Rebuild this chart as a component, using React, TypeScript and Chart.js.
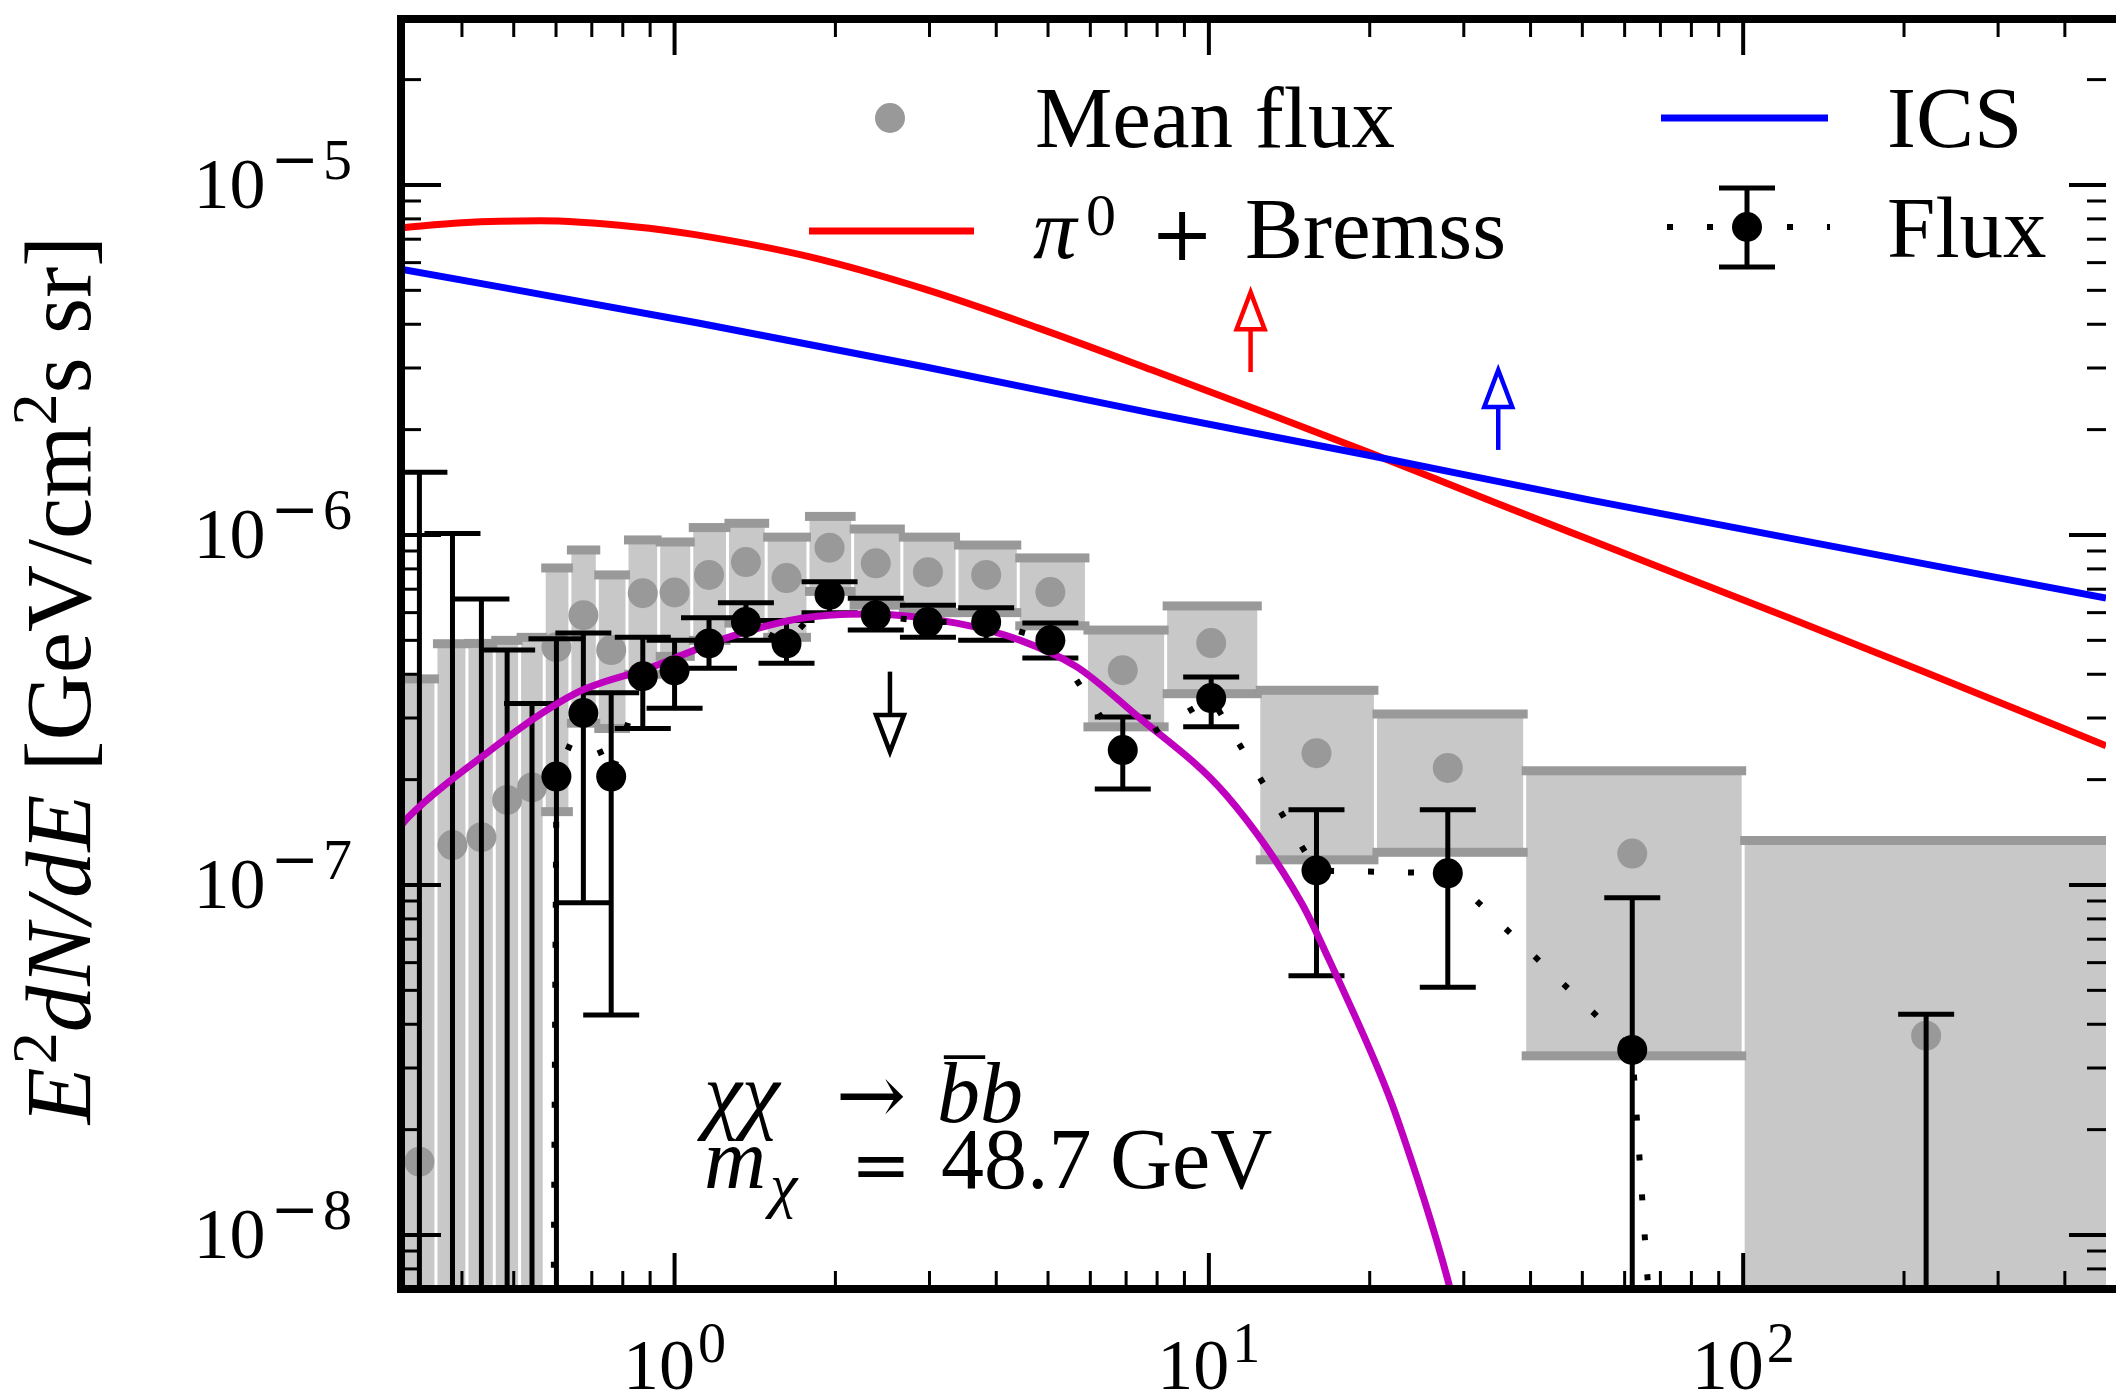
import React, { useEffect, useRef } from 'react';
import { Chart, registerables } from 'chart.js';

Chart.register(...registerables);

const W = 2121;
const H = 1395;
const FONT = '"Liberation Serif", "DejaVu Serif", serif';
const FONT_SYM = '"DejaVu Serif", "Liberation Serif", serif';

// axis ranges
const X_MIN = 0.3076;
const X_MAX = 477.6;
const Y_MIN = 7.01e-9;
const Y_MAX = 2.98e-5;
const OFF = 1e-20; // value far below the axis

// energy bins (GeV)
const binLow = [0.31, 0.3576, 0.4087, 0.4598, 0.5128, 0.5702, 0.6369, 0.7167, 0.8146, 0.9338, 1.077, 1.256, 1.484, 1.777, 2.154, 2.663, 3.378, 4.398, 5.9, 8.3, 12.4, 20.5, 39, 100];
const binHigh = [0.3576, 0.4087, 0.4598, 0.5128, 0.5702, 0.6369, 0.7167, 0.8146, 0.9338, 1.077, 1.256, 1.484, 1.777, 2.154, 2.663, 3.378, 4.398, 5.9, 8.3, 12.4, 20.5, 39, 100, 500];
const binCenter = [0.333, 0.384, 0.435, 0.486, 0.541, 0.601, 0.675, 0.761, 0.872, 1.0, 1.16, 1.36, 1.62, 1.95, 2.38, 2.98, 3.83, 5.05, 6.9, 10.1, 15.9, 28.0, 62, 220];

// mean flux with systematic band
const meanFlux = [1.62e-8, 1.3e-7, 1.37e-7, 1.75e-7, 1.9e-7, 4.78e-7, 5.9e-7, 4.69e-7, 6.82e-7, 6.85e-7, 7.69e-7, 8.37e-7, 7.53e-7, 9.2e-7, 8.3e-7, 7.83e-7, 7.69e-7, 6.87e-7, 4.11e-7, 4.91e-7, 2.38e-7, 2.16e-7, 1.23e-7, 3.71e-8];
const sysLow = [OFF, OFF, OFF, OFF, OFF, 1.62e-7, 2.9e-7, 2.8e-7, 4.0e-7, 4.5e-7, 5.0e-7, 5.6e-7, 5.1e-7, 6.9e-7, 6.3e-7, 6.0e-7, 6.0e-7, 5.5e-7, 2.83e-7, 3.52e-7, 1.18e-7, 1.24e-7, 3.25e-8, OFF];
const sysHigh = [3.88e-7, 4.89e-7, 4.9e-7, 5.0e-7, 5.1e-7, 8.05e-7, 9.06e-7, 7.69e-7, 9.68e-7, 9.55e-7, 1.05e-6, 1.08e-6, 9.86e-7, 1.13e-6, 1.04e-6, 9.86e-7, 9.36e-7, 8.6e-7, 5.35e-7, 6.27e-7, 3.6e-7, 3.08e-7, 2.12e-7, 1.34e-7];

// flux with statistical errors
const flux = [OFF, OFF, OFF, OFF, OFF, 2.04e-7, 3.1e-7, 2.04e-7, 3.95e-7, 4.1e-7, 4.9e-7, 5.64e-7, 4.9e-7, 6.74e-7, 5.9e-7, 5.64e-7, 5.64e-7, 5.0e-7, 2.43e-7, 3.42e-7, 1.1e-7, 1.08e-7, 3.38e-8, OFF];
const fluxLow = [OFF, OFF, OFF, OFF, OFF, OFF, 8.9e-8, 4.25e-8, 2.8e-7, 3.2e-7, 4.16e-7, 5.0e-7, 4.3e-7, 6.0e-7, 5.35e-7, 5.1e-7, 5.0e-7, 4.45e-7, 1.88e-7, 2.83e-7, 5.5e-8, 5.1e-8, OFF, OFF];
const fluxHigh = [1.51e-6, 1.01e-6, 6.56e-7, 4.69e-7, 3.3e-7, 5.05e-7, 5.25e-7, 3.54e-7, 5.1e-7, 5.0e-7, 5.8e-7, 6.4e-7, 5.7e-7, 7.35e-7, 6.6e-7, 6.3e-7, 6.2e-7, 5.6e-7, 3.02e-7, 3.93e-7, 1.64e-7, 1.64e-7, 9.2e-8, 4.27e-8];

// model curves
const picE = [0.3076, 0.4, 0.56, 0.84, 1.1, 1.8, 2.95, 4.8, 7.83, 12.8, 19.95, 34.2, 51.5, 121.7, 218, 477.6];
const picF = [7.55e-6, 7.8e-6, 7.9e-6, 7.6e-6, 7.2e-6, 6.22e-6, 5.03e-6, 3.9e-6, 2.96e-6, 2.23e-6, 1.72e-6, 1.24e-6, 9.7e-7, 5.8e-7, 4.07e-7, 2.5e-7];
const icsE = [0.3076, 1.1, 2.95, 7.83, 19.9, 51.5, 477.6];
const icsF = [5.75e-6, 4.04e-6, 3.02e-6, 2.23e-6, 1.69e-6, 1.26e-6, 6.6e-7];
const dmE = [0.3076, 0.317, 0.435, 0.655, 0.91, 1.26, 1.75, 2.3, 3.37, 4.44, 5.66, 7.23, 10.8, 14.9, 16.8, 20.7, 22.4, 27.9, 30];
const dmF = [1.48e-7, 1.56e-7, 2.32e-7, 3.54e-7, 4.2e-7, 5.1e-7, 5.8e-7, 5.95e-7, 5.6e-7, 5.0e-7, 4.2e-7, 3.1e-7, 1.8e-7, 8.9e-8, 6.1e-8, 3.0e-8, 2.2e-8, 7.6e-9, 4.8e-9];

// limit arrows
const arrowE = [2.53, 11.97, 34.8];
const arrowFrom = [4.07e-7, 2.92e-6, 1.75e-6];
const arrowTo = [2.4e-7, 4.94e-6, 2.96e-6];
const arrowColor = ['#000000', '#ff0000', '#0000ff'];

// tick labels (powers of ten)
const xTickExp = [0, 1, 2];
const yTickExp = [-8, -7, -6, -5];

const COL_BOX = '#c8c8c8';
const COL_CAP = '#999999';
const COL_MEAN = '#999999';
const COL_DM = '#bf00bf';
const COL_PI = '#ff0000';
const COL_ICS = '#0000ff';

type Seg = { t: string; size: number; it?: boolean; dy?: number; gap?: number; fam?: string };

function segFont(s: Seg) {
  return `${s.it ? 'italic ' : ''}${s.size}px ${s.fam || FONT}`;
}

function segWidth(ctx: CanvasRenderingContext2D, segs: Seg[]) {
  let w = 0;
  for (const s of segs) {
    ctx.font = segFont(s);
    w += ctx.measureText(s.t).width + (s.gap || 0);
  }
  return w;
}

function drawSegs(ctx: CanvasRenderingContext2D, segs: Seg[], x: number, y: number) {
  let cx = x;
  for (const s of segs) {
    ctx.font = segFont(s);
    ctx.fillText(s.t, cx, y + (s.dy || 0));
    cx += ctx.measureText(s.t).width + (s.gap || 0);
  }
  return cx;
}

function text(ctx: CanvasRenderingContext2D, t: string, x: number, y: number, size: number, it = false, fam = FONT) {
  ctx.font = `${it ? 'italic ' : ''}${size}px ${fam}`;
  ctx.fillText(t, x, y);
  return ctx.measureText(t).width;
}

function textCentered(ctx: CanvasRenderingContext2D, t: string, cx: number, y: number, size: number, fam = FONT) {
  ctx.font = `${size}px ${fam}`;
  const w = ctx.measureText(t).width;
  ctx.fillText(t, cx - w / 2, y);
}

function line(ctx: CanvasRenderingContext2D, x0: number, y0: number, x1: number, y1: number) {
  ctx.beginPath();
  ctx.moveTo(x0, y0);
  ctx.lineTo(x1, y1);
  ctx.stroke();
}

function clipArea(chart: any) {
  const a = chart.chartArea;
  chart.ctx.beginPath();
  chart.ctx.rect(a.left, a.top, a.right - a.left, a.bottom - a.top);
  chart.ctx.clip();
}

function drawBoxes(chart: any) {
  const ctx = chart.ctx as CanvasRenderingContext2D;
  const xs = chart.scales.x;
  const ys = chart.scales.y;
  ctx.save();
  clipArea(chart);
  ctx.fillStyle = COL_BOX;
  for (let i = 0; i < binLow.length; i++) {
    const x0 = xs.getPixelForValue(binLow[i]);
    const x1 = xs.getPixelForValue(binHigh[i]);
    const yT = ys.getPixelForValue(sysHigh[i]);
    const yB = Math.min(ys.getPixelForValue(sysLow[i]), 3000);
    ctx.fillRect(x0 + 1.5, yT, x1 - x0 - 3, yB - yT);
  }
  ctx.fillStyle = COL_CAP;
  for (let i = 0; i < binLow.length; i++) {
    const x0 = xs.getPixelForValue(binLow[i]);
    const x1 = xs.getPixelForValue(binHigh[i]);
    const yT = ys.getPixelForValue(sysHigh[i]);
    const yB = ys.getPixelForValue(sysLow[i]);
    ctx.fillRect(x0 - 3, yT - 4.5, x1 - x0 + 6, 9);
    if (sysLow[i] > OFF) ctx.fillRect(x0 - 3, yB - 4.5, x1 - x0 + 6, 9);
  }
  ctx.restore();
}

function drawErrorBars(chart: any) {
  const ctx = chart.ctx as CanvasRenderingContext2D;
  const xs = chart.scales.x;
  const ys = chart.scales.y;
  ctx.save();
  clipArea(chart);
  ctx.strokeStyle = '#000';
  ctx.lineWidth = 5;
  ctx.lineCap = 'butt';
  for (let i = 0; i < binCenter.length; i++) {
    const x = xs.getPixelForValue(binCenter[i]);
    const yH = ys.getPixelForValue(fluxHigh[i]);
    const yL = Math.min(ys.getPixelForValue(fluxLow[i]), 3000);
    line(ctx, x, yL, x, yH);
    line(ctx, x - 28, yH, x + 28, yH);
    if (fluxLow[i] > OFF) line(ctx, x - 28, yL, x + 28, yL);
  }
  ctx.restore();
}

function drawArrows(chart: any) {
  const ctx = chart.ctx as CanvasRenderingContext2D;
  const xs = chart.scales.x;
  const ys = chart.scales.y;
  ctx.save();
  ctx.lineWidth = 4.5;
  ctx.lineJoin = 'miter';
  for (let i = 0; i < arrowE.length; i++) {
    const x = xs.getPixelForValue(arrowE[i]);
    const y0 = ys.getPixelForValue(arrowFrom[i]);
    const y1 = ys.getPixelForValue(arrowTo[i]);
    const dir = y1 > y0 ? 1 : -1;
    const hh = 37;
    const hw = 14;
    ctx.strokeStyle = arrowColor[i];
    line(ctx, x, y0, x, y1 - dir * hh);
    ctx.beginPath();
    ctx.moveTo(x, y1);
    ctx.lineTo(x - hw, y1 - dir * hh);
    ctx.lineTo(x + hw, y1 - dir * hh);
    ctx.closePath();
    ctx.fillStyle = '#ffffff';
    ctx.fill();
    ctx.stroke();
  }
  ctx.restore();
}

function drawFrame(chart: any) {
  const ctx = chart.ctx as CanvasRenderingContext2D;
  const a = chart.chartArea;
  const xs = chart.scales.x;
  const ys = chart.scales.y;
  ctx.save();
  ctx.strokeStyle = '#000';
  ctx.lineCap = 'butt';
  const xMinor: number[] = [];
  for (let k = -1; k <= 2; k++) for (let m = 2; m <= 9; m++) {
    const v = m * Math.pow(10, k);
    if (v > X_MIN && v < X_MAX) xMinor.push(v);
  }
  const yMinor: number[] = [];
  for (let k = -9; k <= -5; k++) for (let m = 2; m <= 9; m++) {
    const v = m * Math.pow(10, k);
    if (v > Y_MIN && v < Y_MAX) yMinor.push(v);
  }
  ctx.lineWidth = 3;
  for (const v of xMinor) {
    const x = xs.getPixelForValue(v);
    line(ctx, x, a.bottom, x, a.bottom - 18);
    line(ctx, x, a.top, x, a.top + 18);
  }
  for (const v of yMinor) {
    const y = ys.getPixelForValue(v);
    line(ctx, a.left, y, a.left + 20, y);
    line(ctx, a.right, y, a.right - 19, y);
  }
  ctx.lineWidth = 4;
  for (const e of xTickExp) {
    const x = xs.getPixelForValue(Math.pow(10, e));
    line(ctx, x, a.bottom, x, a.bottom - 36);
    line(ctx, x, a.top, x, a.top + 36);
  }
  for (const e of yTickExp) {
    const y = ys.getPixelForValue(Math.pow(10, e));
    line(ctx, a.left, y, a.left + 40, y);
    line(ctx, a.right, y, a.right - 37, y);
  }
  // frame (right side lies outside the picture)
  ctx.lineWidth = 8;
  ctx.lineJoin = 'miter';
  ctx.beginPath();
  ctx.moveTo(a.right + 10, a.top);
  ctx.lineTo(a.left, a.top);
  ctx.lineTo(a.left, a.bottom);
  ctx.lineTo(a.right + 10, a.bottom);
  ctx.stroke();

  // tick labels
  ctx.fillStyle = '#000';
  ctx.textBaseline = 'alphabetic';
  ctx.textAlign = 'left';
  for (const e of xTickExp) {
    const x = xs.getPixelForValue(Math.pow(10, e));
    const segs: Seg[] = [
      { t: '10', size: 72, gap: 3 },
      { t: String(e), size: 56, dy: -27 },
    ];
    const w = segWidth(ctx, segs);
    drawSegs(ctx, segs, x - w / 2, 1389);
  }
  for (const e of yTickExp) {
    const y = ys.getPixelForValue(Math.pow(10, e));
    const segs: Seg[] = [
      { t: '10', size: 72, gap: 5 },
      { t: '\u2212', size: 58, dy: -29, fam: FONT_SYM, gap: 4 },
      { t: String(-e), size: 58, dy: -29 },
    ];
    const w = segWidth(ctx, segs);
    drawSegs(ctx, segs, 352 - w, y + 23);
  }
  ctx.restore();
}

function drawLegendAndText(chart: any) {
  const ctx = chart.ctx as CanvasRenderingContext2D;
  ctx.save();
  ctx.fillStyle = '#000';
  ctx.textAlign = 'left';
  ctx.textBaseline = 'alphabetic';

  // legend row 1
  ctx.fillStyle = COL_MEAN;
  ctx.beginPath();
  ctx.arc(890, 118, 15, 0, Math.PI * 2);
  ctx.fill();
  ctx.fillStyle = '#000';
  text(ctx, 'Mean flux', 1035, 147, 87);
  ctx.strokeStyle = COL_ICS;
  ctx.lineWidth = 7;
  line(ctx, 1661, 118, 1828, 118);
  text(ctx, 'ICS', 1887, 147, 87);

  // legend row 2
  ctx.strokeStyle = COL_PI;
  ctx.lineWidth = 7;
  line(ctx, 809, 231, 974, 231);
  text(ctx, '\u03c0', 1033, 258, 87, true);
  text(ctx, '0', 1086, 235, 60);
  textCentered(ctx, '+', 1182, 260, 76, FONT_SYM);
  text(ctx, 'Bremss', 1245, 258, 87);
  // flux glyph
  ctx.strokeStyle = '#000';
  ctx.lineWidth = 6;
  ctx.setLineDash([6, 34]);
  line(ctx, 1667, 227, 1830, 227);
  ctx.setLineDash([]);
  ctx.lineWidth = 5;
  line(ctx, 1747, 188, 1747, 267);
  line(ctx, 1719, 188, 1775, 188);
  line(ctx, 1719, 267, 1775, 267);
  ctx.fillStyle = '#000';
  ctx.beginPath();
  ctx.arc(1747, 227, 15, 0, Math.PI * 2);
  ctx.fill();
  text(ctx, 'Flux', 1887, 257, 87);

  // annotation: chi chi -> b-bar b
  text(ctx, '\u03c7\u03c7', 704, 1122, 86, true);
  textCentered(ctx, '\u2192', 871, 1124, 84, FONT_SYM);
  const bw = text(ctx, 'b', 937, 1122, 86, true);
  ctx.font = `80px ${FONT}`;
  const mw = ctx.measureText('\u00af').width;
  text(ctx, '\u00af', 937 + bw / 2 - mw / 2 + 6, 1116, 80);
  text(ctx, 'b', 937 + bw, 1122, 86, true);

  // m_chi = 48.7 GeV
  text(ctx, 'm', 704, 1188, 86, true);
  text(ctx, '\u03c7', 770, 1206, 62, true);
  textCentered(ctx, '=', 881, 1190, 72, FONT_SYM);
  text(ctx, '48.7', 941, 1188, 86);
  text(ctx, 'GeV', 1110, 1188, 86);

  // y axis title
  const title: Seg[] = [
    { t: 'E', size: 93, it: true, gap: 3 },
    { t: '2', size: 64, dy: -34 },
    { t: 'dN/dE', size: 93, it: true },
    { t: ' [GeV/cm', size: 93 },
    { t: '2', size: 64, dy: -34 },
    { t: 's sr]', size: 93 },
  ];
  const tw = segWidth(ctx, title);
  ctx.translate(90, 680);
  ctx.rotate(-Math.PI / 2);
  drawSegs(ctx, title, -tw / 2, 0);
  ctx.restore();
}

const customPlugin = {
  id: 'fermiSpectrum',
  beforeDatasetsDraw(chart: any) {
    drawBoxes(chart);
  },
  afterDatasetDraw(chart: any, args: any) {
    if (args.index === 0) drawErrorBars(chart);
  },
  afterDatasetsDraw(chart: any) {
    drawArrows(chart);
  },
  afterDraw(chart: any) {
    drawFrame(chart);
    drawLegendAndText(chart);
  },
};

const pts = (xs: number[], ys: number[]) => xs.map((x, i) => ({ x, y: ys[i] }));

export default function App() {
  const ref = useRef<HTMLCanvasElement>(null);
  useEffect(() => {
    if (!ref.current) return;
    const chart = new Chart(ref.current, {
      type: 'line',
      data: {
        datasets: [
          {
            label: 'Mean flux',
            data: pts(binCenter, meanFlux),
            showLine: false,
            pointRadius: 15,
            pointBackgroundColor: COL_MEAN,
            pointBorderWidth: 0,
            order: 10,
          },
          {
            label: 'DM',
            data: pts(dmE, dmF),
            borderColor: COL_DM,
            borderWidth: 7,
            pointRadius: 0,
            cubicInterpolationMode: 'monotone',
            fill: false,
            order: 9,
          },
          {
            label: 'pi0 + Bremss',
            data: pts(picE, picF),
            borderColor: COL_PI,
            borderWidth: 7,
            pointRadius: 0,
            cubicInterpolationMode: 'monotone',
            fill: false,
            order: 8,
          },
          {
            label: 'ICS',
            data: pts(icsE, icsF),
            borderColor: COL_ICS,
            borderWidth: 7,
            pointRadius: 0,
            cubicInterpolationMode: 'monotone',
            fill: false,
            order: 7,
          },
          {
            label: 'Flux line',
            data: pts(binCenter, flux),
            borderColor: '#000000',
            borderWidth: 6,
            borderDash: [6, 34],
            pointRadius: 0,
            tension: 0,
            fill: false,
            order: 6,
          },
          {
            label: 'Flux',
            data: pts(binCenter, flux),
            showLine: false,
            pointRadius: 15,
            pointBackgroundColor: '#000000',
            pointBorderWidth: 0,
            order: 5,
          },
        ] as any,
      },
      options: {
        responsive: false,
        animation: false,
        devicePixelRatio: 1,
        layout: { padding: { left: 401, top: 19, right: 0, bottom: 106 } },
        scales: {
          x: { type: 'logarithmic', min: X_MIN, max: X_MAX, bounds: 'data', display: false },
          y: { type: 'logarithmic', min: Y_MIN, max: Y_MAX, bounds: 'data', display: false },
        },
        plugins: {
          legend: { display: false },
          tooltip: { enabled: false },
        },
        events: [],
      } as any,
      plugins: [customPlugin],
    });
    return () => chart.destroy();
  }, []);
  return (
    <div style={{ position: 'absolute', left: 0, top: 0, width: W, height: H, background: '#ffffff', overflow: 'hidden' }}>
      <canvas ref={ref} width={W} height={H} style={{ display: 'block', width: W, height: H }} />
    </div>
  );
}
